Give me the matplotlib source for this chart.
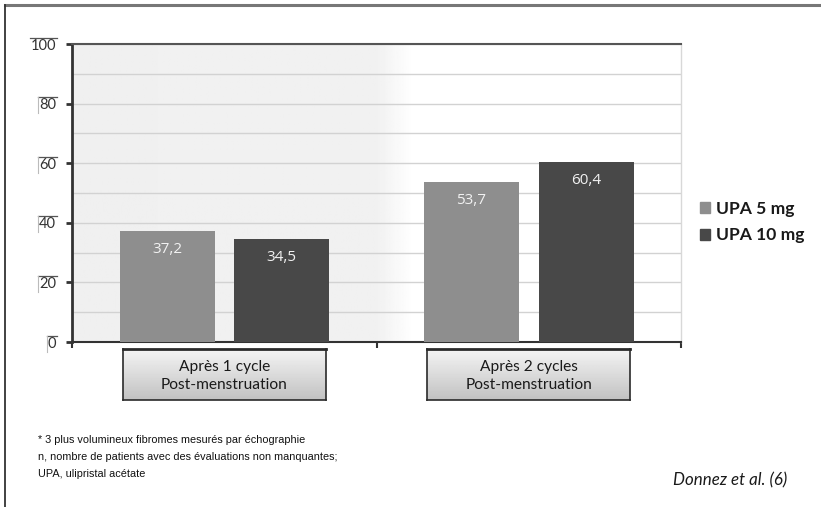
import numpy as np
import matplotlib

matplotlib.use("Agg")
import matplotlib.pyplot as plt
from matplotlib.patches import Patch
from matplotlib.lines import Line2D

# --- data ---
categories = ["Après 1 cycle\nPost-menstruation", "Après 2 cycles\nPost-menstruation"]
series_names = ["UPA 5 mg", "UPA 10 mg"]
upa_5mg = [37.2, 53.7]
upa_10mg = [34.5, 60.4]
y_ticks = [0, 20, 40, 60, 80, 100]
footnote = ["* 3 plus volumineux fibromes mesurés par échographie",
            "n, nombre de patients avec des évaluations non manquantes;",
            "UPA, ulipristal acétate"]
source = "Donnez et al. (6)"

LIGHT, DARK = "#8e8e8e", "#484848"
LATO = ["Lato", "DejaVu Sans"]

fig = plt.figure(figsize=(8.21, 5.07), dpi=100)
fig_w, fig_h = fig.get_size_inches() * fig.dpi
ax = fig.add_axes([0.0877, 0.3254, 0.7418, 0.5878])

# grey backdrop over the left half, fading out to white
fx = np.linspace(0, 1, 512)
grad = np.interp(fx, [0, 0.5, 0.56, 1], [0.94, 0.945, 1.0, 1.0]).reshape(1, -1)
ax.imshow(grad, cmap="gray", vmin=0, vmax=1, aspect="auto",
          extent=[0, 2, 0, 100], zorder=0)

x = np.array([0.5, 1.5])
off, w = 0.188, 0.312
for xs, vals, col in [(x - off, upa_5mg, LIGHT), (x + off, upa_10mg, DARK)]:
    bars = ax.bar(xs, vals, width=w, color=col, zorder=3)
    for b, v in zip(bars, vals):
        ax.annotate(f"{v:.1f}".replace(".", ","),
                    (b.get_x() + b.get_width() / 2, v),
                    xytext=(0, -13), textcoords="offset points",
                    ha="center", va="center", color="#f2f2f2",
                    fontsize=11, family=["Open Sans", "DejaVu Sans"], zorder=4)

ax.set_xlim(0, 2)
ax.set_ylim(0, 100)
ax.set_yticks(y_ticks)
ax.set_yticks(np.arange(0, 101, 10), minor=True)
ax.grid(axis="y", which="both", color="#d2d2d2", lw=1, zorder=1)
ax.set_xticks([0, 1, 2])
ax.set_xticklabels([])
ax.tick_params(axis="x", length=4, width=1.5, color="#333333", direction="out")
ax.tick_params(axis="y", which="major", length=4.5, width=2, color="#333333",
               labelsize=10.5, labelcolor="#333333", pad=7)
ax.tick_params(axis="y", which="minor", length=0)
for lab in ax.get_yticklabels():
    lab.set_family(LATO)

ax.spines["left"].set_color("#333333")
ax.spines["left"].set_linewidth(2)
ax.spines["bottom"].set_color("#333333")
ax.spines["bottom"].set_linewidth(1.5)
ax.spines["top"].set_color("#555555")
ax.spines["top"].set_linewidth(1.5)
ax.spines["right"].set_color("#d8d8d8")
ax.spines["right"].set_linewidth(1)

# category boxes under the groups
for xc, label in zip(x, categories):
    cx = ax.transData.transform((xc, 0))[0] / fig_w
    bw, bh = 203 / fig_w, 51 / fig_h
    by = 1 - 400 / fig_h
    box_ax = fig.add_axes([cx - bw / 2, by, bw, bh])
    box_ax.imshow(np.linspace(0.96, 0.76, 64).reshape(-1, 1), cmap="gray",
                  vmin=0, vmax=1, aspect="auto", extent=[0, 1, 0, 1])
    box_ax.set_xticks([]); box_ax.set_yticks([])
    for s in box_ax.spines.values():
        s.set_color("#2a2a2a"); s.set_linewidth(1.2)
    box_ax.spines["top"].set_linewidth(2)
    box_ax.text(0.5, 0.47, label, ha="center", va="center", fontsize=11.2,
                family=LATO, color="#1a1a1a", linespacing=1.3,
                transform=box_ax.transAxes)

# legend
handles = [Patch(color=LIGHT), Patch(color=DARK)]
fig.legend(handles, series_names, loc="upper left",
           bbox_to_anchor=(0.833, 0.635), frameon=False,
           prop=dict(family=LATO, weight="bold", size=12.6),
           handlelength=0.6, handleheight=0.6, handletextpad=0.35,
           labelspacing=0.6, labelcolor="#1a1a1a")

# footnotes and source
for i, line in enumerate(footnote):
    fig.text(38 / fig_w, 1 - (440 + 17 * i) / fig_h, line, fontsize=7.8,
             family=["Liberation Sans", "DejaVu Sans"],
             va="center", ha="left", color="#111111")
fig.text(787 / fig_w, 1 - 480 / fig_h, source, fontsize=12.2, style="italic",
         family=LATO, ha="right", va="center", color="#1a1a1a")

# outer frame: top and left rules
fig.add_artist(Line2D([5 / fig_w, 1], [1 - 5 / fig_h] * 2, color="#777777", lw=2.2))
fig.add_artist(Line2D([5 / fig_w] * 2, [0, 1 - 5 / fig_h], color="#333333", lw=1.3))

# thin corner rules hugging each y tick label
fig.canvas.draw()
for lab in ax.get_yticklabels():
    bb = lab.get_window_extent()
    x0, x1 = (bb.x0 - 1) / fig_w, (bb.x1 + 1) / fig_w
    top, bot = (bb.y1 + 1) / fig_h, (bb.y0 - 1) / fig_h
    fig.add_artist(Line2D([x0, x1], [top, top], color="#555555", lw=0.9))
    if lab.get_text() != "100":
        fig.add_artist(Line2D([x0, x0], [top, bot], color="#bbbbbb", lw=0.8))

fig.savefig("out.png", dpi=100)
